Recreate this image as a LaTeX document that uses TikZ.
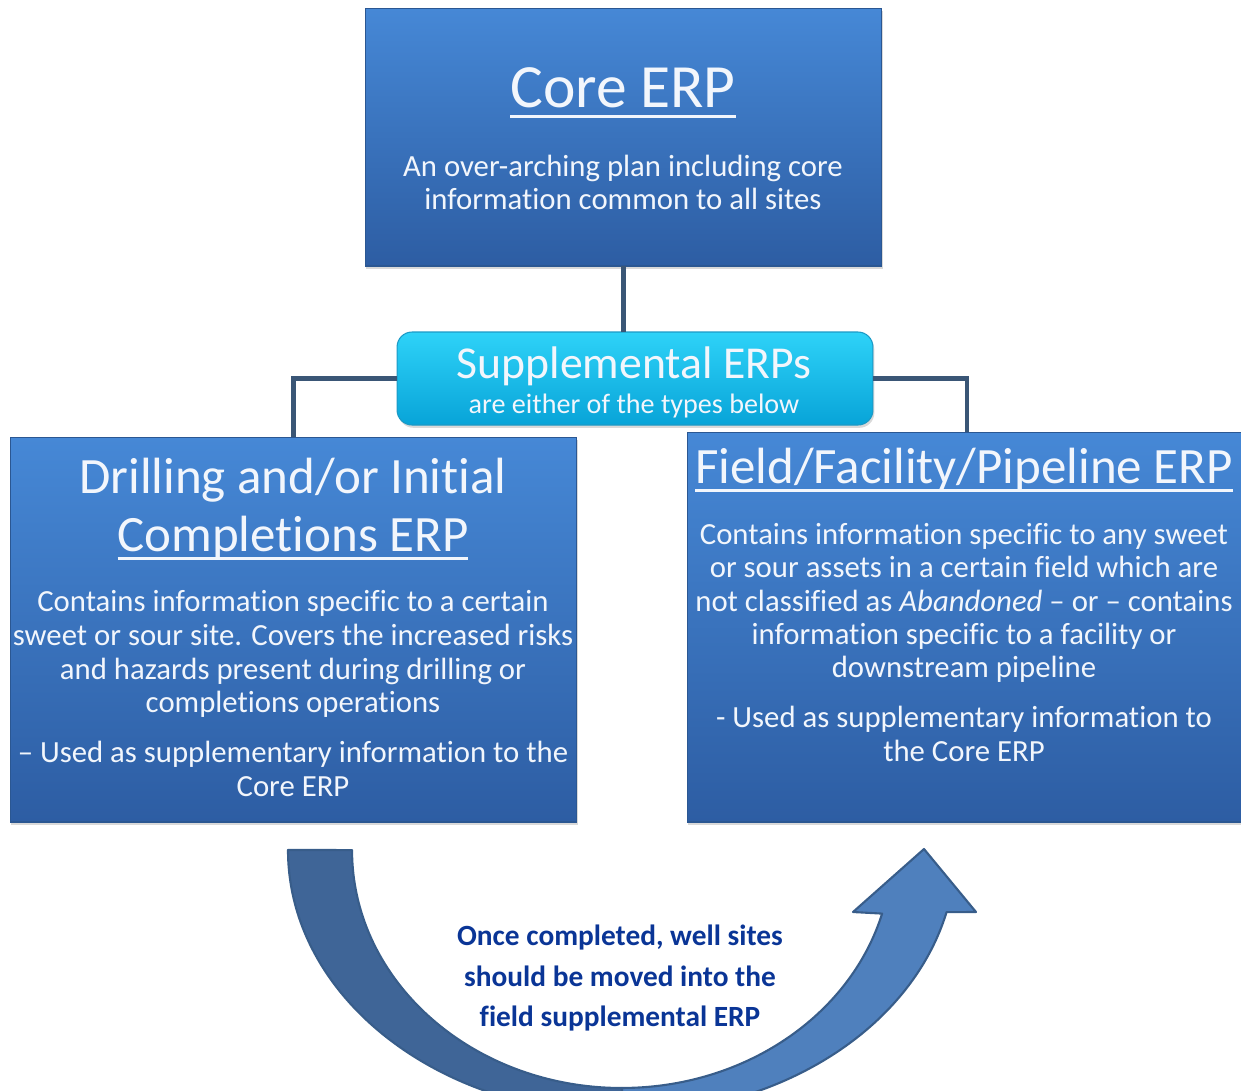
\documentclass[tikz,border=0pt]{standalone}
\usepackage{fontspec}
\setmainfont{Carlito}[Ligatures=NoCommon]
\usetikzlibrary{positioning, shadows}

% underlined title text
\newcommand{\ulttl}[1]{\setbox0\hbox{#1}\leavevmode\rlap{\copy0}\rule[-0.17em]{\wd0}{1.6pt}}

\definecolor{boxtop}{HTML}{4688D6}
\definecolor{boxbot}{HTML}{2D5DA3}
\definecolor{boxedge}{HTML}{2B5792}
\definecolor{supptop}{HTML}{2ED2F8}
\definecolor{suppbot}{HTML}{08A4D8}
\definecolor{suppedge}{HTML}{1C9AC6}
\definecolor{linkcol}{HTML}{3A5676}
\definecolor{arrdark}{HTML}{3F6597}
\definecolor{arrlight}{HTML}{4F80BD}
\definecolor{arredge}{HTML}{385D8A}
\definecolor{notecol}{HTML}{0A3596}
\definecolor{txtcol}{HTML}{F2F6FC}

\begin{document}
\begin{tikzpicture}[x=0.02cm, y=-0.02cm,
    erpbox/.style={draw=boxedge, line width=0.6pt, top color=boxtop, bottom color=boxbot,
        inner sep=0pt, outer sep=0pt,
        drop shadow={opacity=0.3, shadow xshift=0.8pt, shadow yshift=-1.6pt}},
    suppbox/.style={erpbox, draw=suppedge, top color=supptop, bottom color=suppbot, rounded corners=0.3cm},
    link/.style={draw=linkcol, line width=2.3pt},
    txt/.style={text=txtcol, align=center, inner sep=0pt},
    ttl/.style={txt, font=\fontsize{29}{33}\selectfont},
    body/.style={txt, font=\fontsize{17.5}{19.3}\selectfont},
    arrpart/.style={draw=arredge, line width=1.2pt, line join=round}]
    \useasboundingbox (0,0) rectangle (1241,1090);

    % boxes
    \node[erpbox, minimum width=10.34cm, minimum height=5.16cm] (core) at (623.5,137) {};
    \node[suppbox, minimum width=9.52cm, minimum height=1.86cm] (supp) at (635,378.5) {};
    \node[erpbox, minimum width=11.34cm, minimum height=7.7cm] (drill) at (293.5,629.5) {};
    \node[erpbox, minimum width=11.2cm, minimum height=7.8cm] (field) at (967,627) {};

    % connectors
    \draw[link] (core.south) -- (core.south |- supp.north);
    \draw[link] (supp.west) -| (drill.north);
    \draw[link] (supp.east) -| (field.north);

    % texts
    \node[txt, font=\fontsize{35}{40}\selectfont] (coretitle) at (623,93) {\ulttl{Core ERP}};
    \node[body, font=\fontsize{17.5}{18.7}\selectfont] (corebody) at (623,182)
        {An over-arching plan including core\\information common to all sites};
    \node[txt, font=\fontsize{26}{30}\selectfont] (supptitle) at (634,366) {Supplemental ERPs};
    \node[txt, font=\fontsize{16}{18}\selectfont] (suppsub) at (634,406) {are either of the types below};

    \node[ttl] (drilltitle) at (293,509) {Drilling and/or Initial\\\ulttl{Completions ERP}};
    \node[body] (drillbody) at (293,654)
        {Contains information specific to a certain\\sweet or sour site. Covers the increased risks\\and hazards present during drilling or\\completions operations};
    \node[body, font=\fontsize{17.5}{19.8}\selectfont] (drilluse) at (293,769)
        {-- Used as supplementary information to the\\Core ERP};

    \node[ttl] (fieldtitle) at (964,470) {\ulttl{Field/Facility/Pipeline ERP}};
    \node[body, font=\fontsize{17.5}{19}\selectfont] (fieldbody) at (964,603)
        {Contains information specific to any sweet\\or sour assets in a certain field which are\\not classified as \textit{Abandoned} -- or -- contains\\information specific to a facility or\\downstream pipeline};
    \node[body, font=\fontsize{17.5}{19.8}\selectfont] (fielduse) at (964,734)
        {- Used as supplementary information to\\the Core ERP};

    % curved arrow from drilling to field
    \begin{scope}
        \clip (0,0) rectangle (1241,1090);
        \coordinate (ctr) at (622,850);
        \path (ctr) ++(346.4:6.68cm and 5.28cm) coordinate (oend);
        \path (ctr) ++(344.5:5.4cm and 4.76cm) coordinate (iend);
        \path[arrpart, fill=arrdark] (288,850)
            arc[start angle=180, end angle=270, x radius=6.68cm, y radius=5.28cm]
            -- (622,1088)
            arc[start angle=270, end angle=180, x radius=5.4cm, y radius=4.76cm] -- cycle;
        \path[arrpart, fill=arrlight] (622,1114)
            arc[start angle=270, end angle=346.4, x radius=6.68cm, y radius=5.28cm]
            -- (976,912) -- (924,849) -- (853,912) -- (iend)
            arc[start angle=344.5, end angle=270, x radius=5.4cm, y radius=4.76cm] -- cycle;
    \end{scope}
    \node[align=center, text=notecol, font=\bfseries\fontsize{16.7}{23.2}\selectfont] (note) at (620,978)
        {Once completed, well sites\\should be moved into the\\field supplemental ERP};
\end{tikzpicture}
\end{document}
